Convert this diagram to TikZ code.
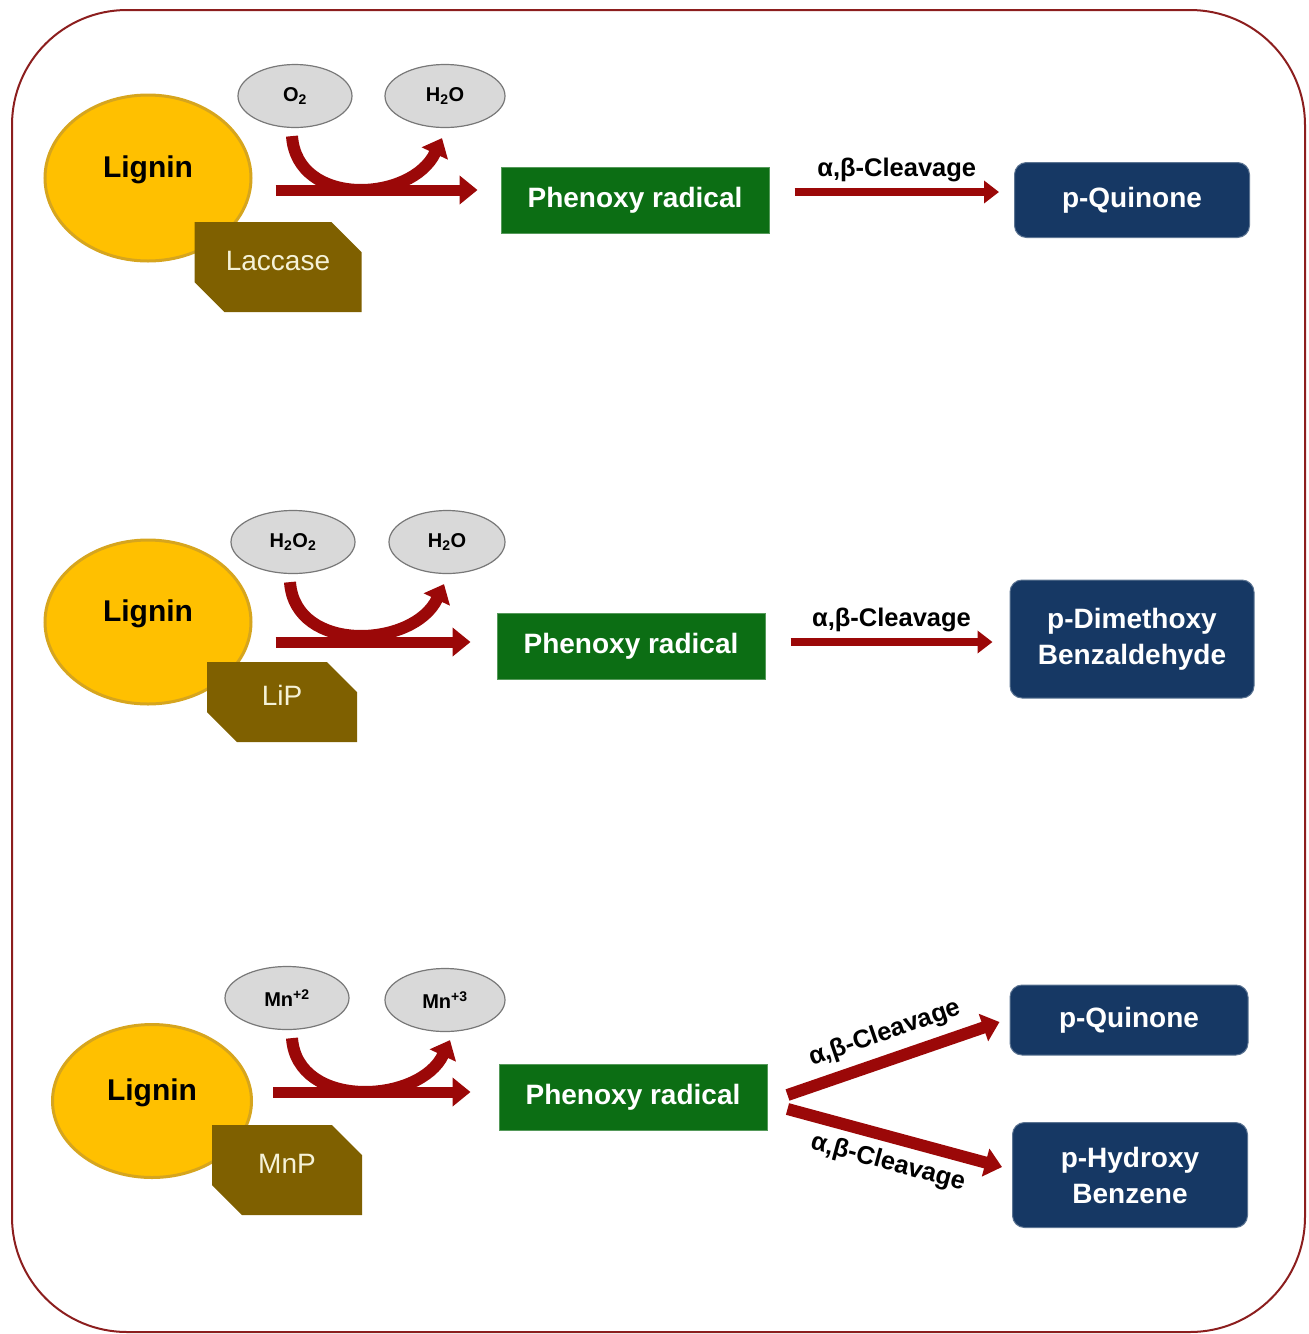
\documentclass[tikz,border=0pt]{standalone}
\usepackage{fontspec}
\setmainfont{Liberation Sans}
\usetikzlibrary{arrows.meta,positioning,shapes.geometric,shapes.misc}

\definecolor{framered}{RGB}{140,30,30}
\definecolor{ligninfill}{RGB}{255,192,0}
\definecolor{ligninedge}{RGB}{214,165,30}
\definecolor{enzfill}{RGB}{127,96,0}
\definecolor{enztext}{RGB}{245,242,215}
\definecolor{coffill}{RGB}{217,217,217}
\definecolor{cofedge}{RGB}{120,120,120}
\definecolor{radfill}{RGB}{12,110,20}
\definecolor{prodfill}{RGB}{22,56,100}
\definecolor{arrowred}{RGB}{155,8,8}

\begin{document}
\begin{tikzpicture}[x=1pt,y=-1pt,
    lignin/.style={ellipse,draw=ligninedge,line width=3pt,fill=ligninfill,inner sep=0pt,
      text height=22pt,text depth=24pt,font=\fontsize{30}{34}\selectfont\bfseries},
    enzyme/.style={chamfered rectangle,chamfered rectangle corners={north east,south west},
      chamfered rectangle sep=15pt,fill=enzfill,text=enztext,inner sep=0pt,
      text height=20pt,text depth=14pt,font=\fontsize{28}{32}\selectfont},
    cofactor/.style={ellipse,draw=cofedge,line width=1.2pt,fill=coffill,inner sep=0pt,
      minimum height=63pt,font=\fontsize{20}{24}\selectfont\bfseries},
    radical/.style={rectangle,fill=radfill,draw=radfill!70!white,line width=1pt,text=white,
      minimum width=268pt,minimum height=66pt,font=\fontsize{28}{32}\selectfont\bfseries},
    product/.style={rectangle,rounded corners=12pt,fill=prodfill,draw=prodfill!70!white,
      line width=1pt,text=white,align=center,font=\fontsize{28}{36}\selectfont\bfseries},
    flow/.style={draw=arrowred,line width=11pt,-{Triangle[length=18pt,width=28pt]}},
    turn/.style={draw=arrowred,line width=12pt,-{Triangle[length=17pt,width=28pt]}},
    cleave/.style={draw=arrowred,line width=8pt,-{Triangle[length=15pt,width=22pt]}},
    fork/.style={draw=arrowred,line width=12pt,-{Triangle[length=17pt,width=28pt]}},
    tag/.style={text=black,font=\fontsize{25.5}{28}\selectfont\bfseries}]

  \useasboundingbox (0,0) rectangle (1309,1334);
  \draw[framered,line width=2pt,rounded corners=115pt] (12,10) rectangle (1305,1332);

  % laccase
  \node[lignin,minimum width=206pt,minimum height=166pt] (lig1) at (148,178) {Lignin};
  \node[enzyme,minimum width=167pt,minimum height=90pt] (lac) at (278,267) {Laccase};
  \node[cofactor,minimum width=114pt] (oxy) at (295,96) {O\textsubscript{2}};
  \node[cofactor,minimum width=120pt] (wat1) at (445,96) {H\textsubscript{2}O};
  \node[radical] (phen1) at (635,200) {Phenoxy radical};
  \node[product,minimum width=235pt,minimum height=75pt] (quin1) at (1132,200) {p-Quinone};
  \draw[turn] ([shift={(-3,8)}]oxy.south) .. controls +(5,72) and +(-30,64) .. ([shift={(-3,10)}]wat1.south);
  \draw[flow] ([shift={(23,12)}]lig1.east) -- ([shift={(-23,-10)}]phen1.west);
  \draw[cleave] ([shift={(25,-8)}]phen1.east) -- ([shift={(-15,-8)}]quin1.west)
    node[midway,above=3pt,tag] {α,β-Cleavage};

  % lignin peroxidase
  \node[lignin,minimum width=206pt,minimum height=164pt] (lig2) at (148,622) {Lignin};
  \node[enzyme,minimum width=150pt,minimum height=80pt] (lip) at (282,702) {LiP};
  \node[cofactor,minimum width=124pt] (perox) at (293,542) {H\textsubscript{2}O\textsubscript{2}};
  \node[cofactor,minimum width=116pt] (wat2) at (447,542) {H\textsubscript{2}O};
  \node[radical] (phen2) at (631,646) {Phenoxy radical};
  \node[product,minimum width=244pt,minimum height=118pt] (dimeth) at (1132,639) {p-Dimethoxy\\Benzaldehyde};
  \draw[turn] ([shift={(-3,8)}]perox.south) .. controls +(5,72) and +(-30,64) .. ([shift={(-3,10)}]wat2.south);
  \draw[flow] ([shift={(23,20)}]lig2.east) -- ([shift={(-26,-4)}]phen2.west);
  \draw[cleave] ([shift={(25,-4)}]phen2.east) -- ([shift={(-17,3)}]dimeth.west)
    node[midway,above=3pt,tag] {α,β-Cleavage};

  % manganese peroxidase
  \node[lignin,minimum width=199pt,minimum height=153pt] (lig3) at (152,1101) {Lignin};
  \node[enzyme,minimum width=150pt,minimum height=90pt] (mnp) at (287,1170) {MnP};
  \node[cofactor,minimum width=124pt] (mntwo) at (287,998) {Mn\textsuperscript{+2}};
  \node[cofactor,minimum width=120pt] (mnthree) at (445,1000) {Mn\textsuperscript{+3}};
  \node[radical] (phen3) at (633,1097) {Phenoxy radical};
  \node[product,minimum width=238pt,minimum height=70pt] (quin3) at (1129,1020) {p-Quinone};
  \node[product,minimum width=235pt,minimum height=105pt] (hydr) at (1130,1175) {p-Hydroxy\\Benzene};
  \draw[turn] ([shift={(5,8)}]mntwo.south) .. controls +(5,72) and +(-30,64) .. ([shift={(5,8)}]mnthree.south);
  \draw[flow] ([shift={(20,-9)}]lig3.east) -- ([shift={(-28,-5)}]phen3.west);
  \draw[fork] ([shift={(20,-2)}]phen3.east) -- ([shift={(-10,2)}]quin3.west)
    node[midway,sloped,above=5pt,tag] {α,β-Cleavage};
  \draw[fork] ([shift={(20,12)}]phen3.east) -- ([shift={(-10,-8)}]hydr.west)
    node[midway,sloped,below=5pt,tag] {α,β-Cleavage};
\end{tikzpicture}
\end{document}
